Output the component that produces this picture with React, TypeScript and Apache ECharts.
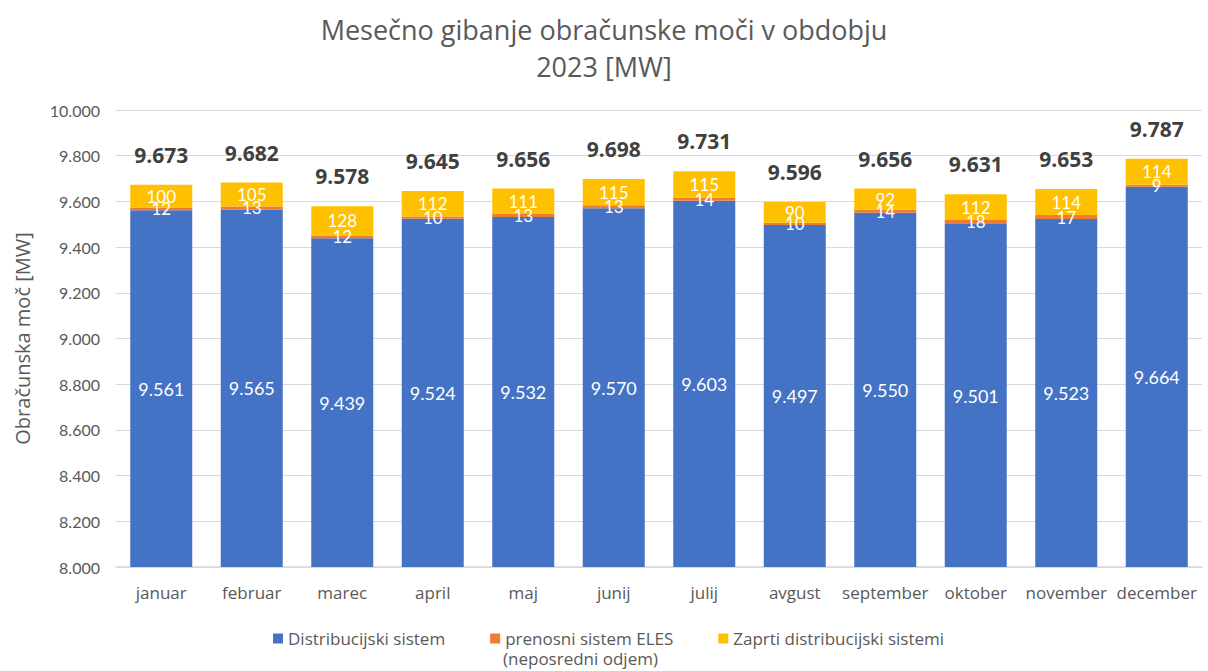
import React, { useEffect, useRef } from "react";
import * as echarts from "echarts";

const categories = ["januar", "februar", "marec", "april", "maj", "junij", "julij", "avgust", "september", "oktober", "november", "december"];
const distribucijski = [9561, 9565, 9439, 9524, 9532, 9570, 9603, 9497, 9550, 9501, 9523, 9664];
const prenosni = [12, 13, 12, 10, 13, 13, 14, 10, 14, 18, 17, 9];
const zaprti = [100, 105, 128, 112, 111, 115, 115, 90, 92, 112, 114, 114];
const totals = [9673, 9682, 9578, 9645, 9656, 9698, 9731, 9596, 9656, 9631, 9653, 9787];

const FONT = "'Open Sans', sans-serif";
const NUMFONT = "Lato, 'Open Sans', sans-serif";
const fmt = (v: number) => {
  if (v >= 1000) {
    const t = Math.floor(v / 1000);
    const r = Math.round(v % 1000);
    return `${t}.${String(r).padStart(3, "0")}`;
  }
  return String(v);
};

export default function App() {
  const ref = useRef<HTMLDivElement>(null);
  useEffect(() => {
    document.body.style.margin = "0";
    const chart = echarts.init(ref.current!, null, { renderer: "svg" });
    const inside = (fs: number) => ({
      show: true,
      position: "inside" as const,
      color: "#ffffff",
      fontSize: fs,
      fontFamily: NUMFONT,
      formatter: (p: any) => fmt(p.value),
    });
    chart.setOption({
      animation: false,
      textStyle: { fontFamily: FONT },
      title: {
        text: "Mesečno gibanje obračunske moči v obdobju\n2023 [MW]",
        left: "center",
        top: 6,
        textStyle: { fontSize: 27, fontWeight: "normal", color: "#595959", fontFamily: FONT, lineHeight: 37 },
      },
      grid: { left: 116, right: 6, top: 110, bottom: 104 },
      legend: {
        data: ["Distribucijski sistem", "prenosni sistem ELES", "Zaprti distribucijski sistemi"],
        left: 268,
        top: 625,
        itemWidth: 10,
        itemHeight: 10,
        itemGap: 45,
        icon: "rect",
        textStyle: { fontSize: 17, color: "#595959", fontFamily: FONT },
      },
      graphic: [
        {
          type: "text",
          left: 503,
          top: 650,
          style: { text: "(neposredni odjem)", fontSize: 17, fill: "#595959", fontFamily: FONT },
        },
      ],
      xAxis: {
        type: "category",
        data: categories,
        axisTick: { show: false },
        axisLine: { lineStyle: { color: "#D9D9D9", width: 1.5 } },
        axisLabel: { color: "#595959", fontSize: 17, margin: 17, fontFamily: FONT, interval: 0 },
      },
      yAxis: {
        type: "value",
        min: 8000,
        max: 10000,
        interval: 200,
        name: "Obračunska moč [MW]",
        nameLocation: "middle",
        nameGap: 84,
        nameTextStyle: { fontSize: 20, color: "#595959", fontFamily: FONT },
        axisLabel: { color: "#595959", fontSize: 16, margin: 16, fontFamily: NUMFONT, formatter: (v: number) => fmt(v) },
        splitLine: { lineStyle: { color: "#D9D9D9", width: 1 } },
        axisLine: { show: false },
        axisTick: { show: false },
      },
      series: [
        {
          name: "Distribucijski sistem",
          type: "bar",
          stack: "s",
          barWidth: 62,
          data: distribucijski,
          itemStyle: { color: "#4472C4" },
          label: inside(18),
        },
        {
          name: "prenosni sistem ELES",
          type: "bar",
          stack: "s",
          barWidth: 62,
          data: prenosni,
          itemStyle: { color: "#ED7D31" },
          label: inside(17),
        },
        {
          name: "Zaprti distribucijski sistemi",
          type: "bar",
          stack: "s",
          barWidth: 62,
          data: zaprti,
          itemStyle: { color: "#FFC000" },
          label: inside(17),
        },
        {
          name: "Skupaj",
          type: "line",
          data: totals,
          symbol: "circle",
          symbolSize: 1,
          showSymbol: true,
          itemStyle: { color: "rgba(0,0,0,0)" },
          lineStyle: { opacity: 0 },
          silent: true,
          z: 5,
          label: {
            show: true,
            position: "top",
            distance: 19,
            color: "#404040",
            fontSize: 21,
            fontWeight: "bold",
            fontFamily: FONT,
            formatter: (p: any) => fmt(p.value),
          },
        },
      ],
    });
    return () => chart.dispose();
  }, []);
  return <div ref={ref} style={{ width: 1208, height: 671 }} />;
}
